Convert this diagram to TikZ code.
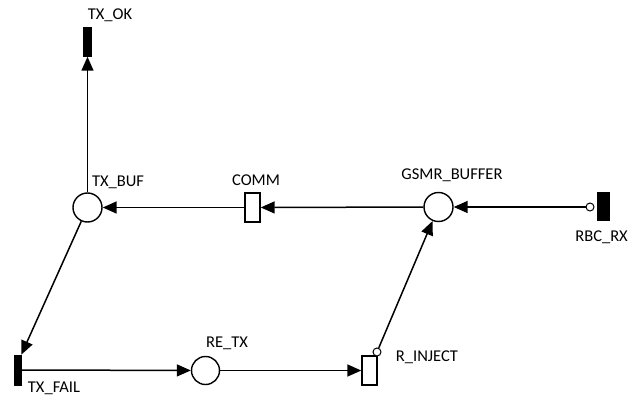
\documentclass[tikz,border=0pt]{standalone}
\usepackage{fontspec}
\setmainfont{Carlito}
\usetikzlibrary{arrows.meta}
\begin{document}
\begin{tikzpicture}[x=1pt,y=-1pt,
 place/.style={circle,draw,line width=1.4pt,minimum size=29pt,inner sep=0pt,fill=white},
 trans/.style={rectangle,draw,line width=1.4pt,minimum width=15pt,minimum height=29pt,inner sep=0pt,fill=white},
 bar/.style={rectangle,fill=black,draw=black,line width=0.5pt,inner sep=0pt},
 port/.style={circle,draw,line width=1pt,minimum size=8pt,inner sep=0pt,fill=white},
 arc/.style={line width=1.5pt,-{Triangle[length=14pt,width=12pt]}},
 lbl/.style={font=\fontsize{16.5}{19}\selectfont,inner sep=0pt}]
\useasboundingbox (0,0) rectangle (629,396);
% places and transitions
\node[bar,minimum width=8pt,minimum height=29pt] (txok) at (87.5,42) {};
\node[place] (txbuf) at (87.5,207.5) {};
\node[trans] (comm) at (252.5,207.5) {};
\node[place] (gsmr) at (438.5,207) {};
\node[port] (rbcport) at (590,207) {};
\node[bar,minimum width=12pt,minimum height=28pt] (rbcrx) at (603,206.5) {};
\node[bar,minimum width=7pt,minimum height=30pt] (txfail) at (17.5,370) {};
\node[place,minimum size=28pt] (retx) at (205.5,370.5) {};
\node[trans] (rinject) at (369.5,370.5) {};
\node[port] (rinjport) at (377,352) {};
% arcs
\draw[arc] (txbuf) -- (txok);
\draw[arc] (comm) -- (txbuf);
\draw[arc] (gsmr) -- (comm);
\draw[arc] (rbcport) -- (gsmr);
\draw[arc] (txbuf) -- (txfail.north east);
\draw[arc] (txfail) -- (retx);
\draw[arc] (retx) -- (rinject);
\draw[arc] (rinjport) -- (gsmr);
% labels
\node[lbl] (ltxok) at (110,15) {TX\_OK};
\node[lbl] (ltxbuf) at (118,182) {TX\_BUF};
\node[lbl] (lcomm) at (256,180) {COMM};
\node[lbl] (lgsmr) at (452,175) {GSMR\_BUFFER};
\node[lbl,anchor=east] (lrbcrx) at (628,237) {RBC\_RX};
\node[lbl] (ltxfail) at (54,388) {TX\_FAIL};
\node[lbl] (lretx) at (227,343) {RE\_TX};
\node[lbl] (lrinject) at (427,357) {R\_INJECT};
\end{tikzpicture}
\end{document}
